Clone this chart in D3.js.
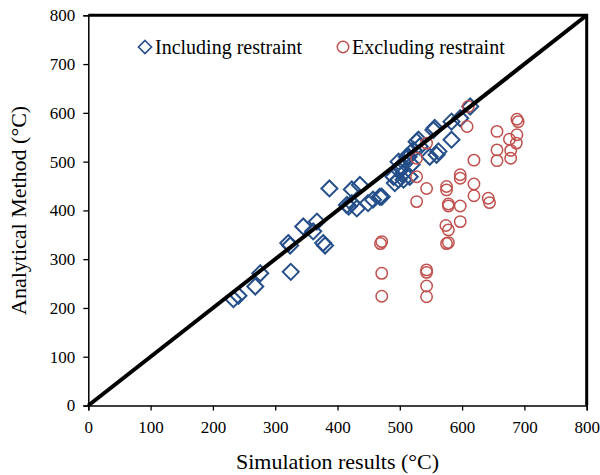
<!DOCTYPE html>
<html>
<head>
<meta charset="utf-8">
<script src="https://cdn.jsdelivr.net/npm/d3@7"></script>
<style>
  html, body { margin: 0; padding: 0; background: #fff; }
  svg { display: block; font-family: "Liberation Serif", "Times New Roman", serif; }
</style>
</head>
<body>
<svg id="chart" width="600" height="475"></svg>
<script>
// Axis ticks (°C)
const ticks = [0, 100, 200, 300, 400, 500, 600, 700, 800];

// Including restraint: [simulation, analytical]
const includingSim = [233, 241, 268, 276, 325, 321, 324, 345, 361, 367, 377, 380, 387, 415, 418,
  423, 431, 423, 436, 449, 457, 468, 471, 490, 492, 498, 498, 498, 506, 508, 514, 516, 522, 527,
  532, 530, 548, 554, 556, 559, 562, 583, 583, 597, 613, 506, 501, 511, 519];
const includingAna = [218, 225, 244, 271, 274, 333, 328, 367, 357, 377, 333, 328, 445, 411, 408,
  415, 404, 443, 452, 415, 422, 428, 428, 469, 456, 463, 483, 500, 463, 497, 510, 469, 524, 541,
  531, 545, 510, 565, 569, 514, 521, 582, 545, 589, 613, 476, 490, 510, 494];

// Excluding restraint: [simulation, analytical]
const excludingSim = [610, 608, 688, 690, 656, 676, 688, 687, 656, 656, 678, 678, 619, 597, 597,
  575, 575, 619, 619, 642, 644, 578, 578, 597, 597, 574, 578, 575, 578, 543, 527, 527, 527, 543,
  469, 471, 471, 471, 543, 543, 543, 543];
const excludingAna = [613, 572, 587, 582, 562, 546, 555, 538, 524, 502, 523, 507, 503, 473, 466,
  449, 442, 454, 430, 425, 416, 413, 409, 409, 377, 369, 360, 332, 334, 445, 418, 469, 507, 538,
  332, 336, 271, 224, 278, 273, 245, 223];

const seriesNames = ["Including restraint", "Excluding restraint"];
const xTitle = "Simulation results (°C)";
const yTitle = "Analytical Method (°C)";

const blue = "#254f8a";
const red = "#c0504d";

const svg = d3.select("#chart");
const m = { left: 88.3, right: 586.7, top: 15.3, bottom: 405.5 };

const x = d3.scaleLinear().domain([0, 800]).range([m.left, m.right]);
const y = d3.scaleLinear().domain([0, 800]).range([m.bottom, m.top]);

// Axes
const xAxis = svg.append("g")
  .attr("transform", `translate(0,${m.bottom})`)
  .call(d3.axisBottom(x).tickValues(ticks).tickSize(5).tickPadding(6).tickFormat(d3.format("d")));
const yAxis = svg.append("g")
  .attr("transform", `translate(${m.left},0)`)
  .call(d3.axisLeft(y).tickValues(ticks).tickSize(5).tickPadding(8).tickFormat(d3.format("d")));

[xAxis, yAxis].forEach(g => {
  g.select(".domain").attr("stroke", "#000").attr("stroke-width", 1.5);
  g.selectAll(".tick line").attr("stroke", "#000").attr("stroke-width", 1.3);
  g.selectAll(".tick text")
    .attr("fill", "#000")
    .style("font-family", '"Liberation Serif", "Times New Roman", serif')
    .style("font-size", "17px");
});
xAxis.selectAll(".tick text").attr("dy", "0.95em");

// Heavy top and right frame
svg.append("path")
  .attr("d", `M${x(0)},${y(800)} H${x(800)} V${y(0)}`)
  .attr("fill", "none").attr("stroke", "#000").attr("stroke-width", 3);

// Diamond path centred on a data point
const diamond = (cx, cy, h) => `M${cx},${cy - h}L${cx + h},${cy}L${cx},${cy + h}L${cx - h},${cy}Z`;

// Including restraint markers
svg.append("g").selectAll("path")
  .data(d3.range(includingSim.length))
  .join("path")
  .attr("d", i => diamond(x(includingSim[i]), y(includingAna[i]), 8))
  .attr("fill", "none").attr("stroke", blue).attr("stroke-width", 2);

// Excluding restraint markers
svg.append("g").selectAll("circle")
  .data(d3.range(excludingSim.length))
  .join("circle")
  .attr("cx", i => x(excludingSim[i]))
  .attr("cy", i => y(excludingAna[i]))
  .attr("r", 5.7)
  .attr("fill", "none").attr("stroke", red).attr("stroke-width", 1.5);

// Line of equality
svg.append("line")
  .attr("x1", x(0)).attr("y1", y(0))
  .attr("x2", x(800)).attr("y2", y(800))
  .attr("stroke", "#000").attr("stroke-width", 4);

// Legend
const legend = svg.append("g").style("font-size", "20px");
legend.append("path")
  .attr("d", diamond(145, 47, 6.5))
  .attr("fill", "none").attr("stroke", blue).attr("stroke-width", 1.7);
legend.append("text").attr("x", 155).attr("y", 54).text(seriesNames[0]);
legend.append("circle")
  .attr("cx", 343).attr("cy", 47).attr("r", 5.7)
  .attr("fill", "none").attr("stroke", red).attr("stroke-width", 1.5);
legend.append("text").attr("x", 352).attr("y", 54).text(seriesNames[1]);

// Axis titles
svg.append("text")
  .attr("x", (m.left + m.right) / 2).attr("y", 469)
  .attr("text-anchor", "middle").style("font-size", "22px")
  .text(xTitle);
svg.append("text")
  .attr("transform", `translate(26,${(m.top + m.bottom) / 2}) rotate(-90)`)
  .attr("text-anchor", "middle").style("font-size", "22px")
  .text(yTitle);
</script>
</body>
</html>
